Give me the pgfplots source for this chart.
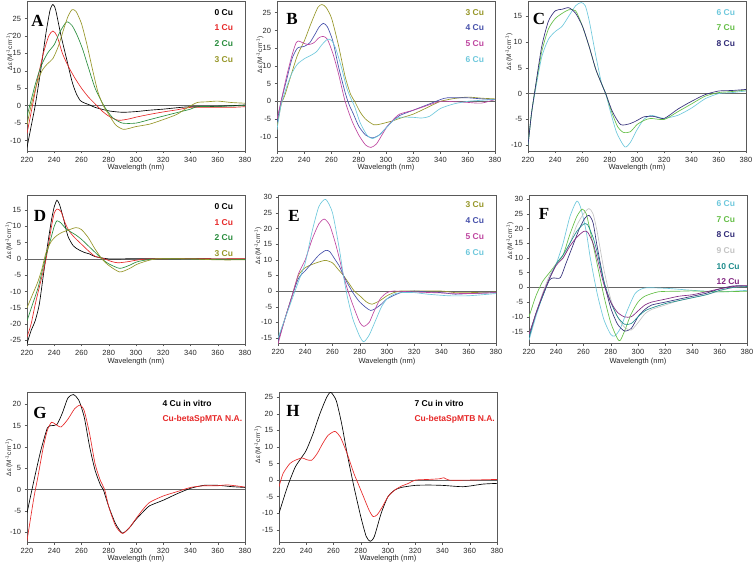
\documentclass[border=0pt]{standalone}
\usepackage{fontspec}
\setmainfont{Liberation Sans}
\newfontfamily\timesfont{Liberation Serif}
\usepackage{pgfplots}
\pgfplotsset{compat=1.18}
\definecolor{cred}{RGB}{230,40,40}
\definecolor{cgreen}{RGB}{40,140,60}
\definecolor{colive}{RGB}{150,150,40}
\definecolor{cblue}{RGB}{70,80,170}
\definecolor{cmag}{RGB}{190,70,160}
\definecolor{ccyan}{RGB}{110,200,220}
\definecolor{clgreen}{RGB}{100,190,70}
\definecolor{cnavy}{RGB}{50,45,120}
\definecolor{clgray}{RGB}{195,195,195}
\definecolor{cteal}{RGB}{30,140,140}
\definecolor{cpurp}{RGB}{130,40,130}
\pgfplotsset{
  pan/.style={scale only axis, width=218pt, height=150pt, anchor=north west,
    xmin=220, xmax=380, xtick={220,240,...,380},
    axis line style={black!65, line width=0.5pt},
    tick style={black!65, line width=0.4pt},
    tick align=outside, major tick length=2.5pt,
    xtick pos=bottom, ytick pos=left,
    tick label style={font=\fontsize{7.5}{9}\selectfont, black!85},
    /pgf/number format/assume math mode=true,
    every axis plot/.append style={line width=0.65pt, no marks, smooth, tension=0.4},
  },
  zero/.style={black!60, line width=0.6pt, sharp plot},
}
\newcommand{\zl}{\addplot[zero] coordinates {(220,0)(380,0)};}
\newcommand{\yl}[2]{\node[rotate=90, font=\fontsize{6.5}{8}\selectfont, black!85] at (#1) {#2};}
\newcommand{\ylab}{Δε (M\textsuperscript{-1}cm\textsuperscript{-1})}
\begin{document}
\begin{tikzpicture}[x=1pt,y=1pt]
\path[use as bounding box] (0,0) rectangle (753,-564);
% ---------------- A
\begin{axis}[pan, at={(27pt,-1pt)}, ymin=-13, ymax=30, ytick={-10,-5,...,25}]
\zl
\addplot[black] coordinates {(220,-12)(223,-6)(226,0)(230,10)(234,21)(237,27.5)(239,29)(241,27.5)(245,20)(249,13.5)(253,7)(256,3.6)(259,1.5)(262,0.8)(266,0.2)(270,-0.5)(280,-1.5)(290,-1.9)(300,-1.7)(310,-1.3)(320,-1)(330,-0.6)(340,-0.3)(360,-0.2)(380,0.2)};
\addplot[cred] coordinates {(220,-8)(224,0)(228,8)(232,15)(236,20)(239,21.4)(242,20)(246,15)(250,11.5)(255,8)(260,5)(265,2.5)(270,0.5)(275,-1.5)(280,-3)(287,-4.2)(295,-3.8)(300,-3.3)(310,-2.5)(320,-1.8)(330,-1.2)(340,-0.5)(350,-0.5)(360,-0.5)(370,-0.5)(380,-0.3)};
\addplot[cgreen] coordinates {(220,-3)(222,0)(226,6)(230,11)(235,15)(240,17.5)(244,21)(249,24)(253,23)(257,20)(261,16)(265,11)(270,5)(275,1)(278,-1)(283,-3.5)(290,-5)(300,-5)(310,-4)(320,-3)(330,-2)(340,-1)(345,-0.3)(360,-0.2)(380,0)};
\addplot[colive] coordinates {(220,-5.5)(223,0)(227,6)(231,10)(235,12)(239,13.5)(243,17)(247,22)(250,25.5)(253,27.5)(256,27)(260,23.5)(264,17.5)(268,10.5)(272,4)(276,0)(280,-2.5)(285,-5.5)(291,-6.8)(300,-6)(310,-5.3)(320,-4)(330,-2.5)(338,-0.5)(345,0.9)(352,1.1)(360,1.3)(370,0.9)(380,0.7)};
\end{axis}
% ---------------- B
\begin{axis}[pan, at={(277pt,-1pt)}, ymin=-14, ymax=28.3, ytick={-10,-5,...,25}]
\zl
\addplot[colive] coordinates {(220,-7)(223,-1)(226,2)(230,7)(235,13)(240,17)(245,22)(250,26.5)(253,27.3)(256,26.5)(260,23.5)(265,16)(270,7)(274,2)(277,0)(281,-3)(285,-5)(291,-6.6)(296,-6.4)(300,-6)(305,-5.5)(310,-4.8)(320,-3.6)(330,-1.8)(340,0)(350,0.8)(360,1.2)(370,0.9)(380,0.7)};
\addplot[cblue] coordinates {(220,-6)(223,0)(227,6)(231,12)(235,15)(240,15.5)(244,16.5)(248,19)(251,21)(254,22)(257,21)(261,17)(265,10)(270,2.5)(273,-1)(276,-3.5)(280,-7)(285,-9.5)(290,-10.3)(295,-9.5)(300,-7.5)(305,-5.5)(310,-4)(320,-2.5)(330,-1)(340,0.5)(345,1)(360,1)(370,0.7)(380,0.5)};
\addplot[cmag] coordinates {(220,-5)(223,0)(227,7)(231,13)(234,16.5)(236,17)(239,16.5)(243,16)(247,16.5)(251,18)(254,18.3)(257,17.5)(261,13.5)(265,8)(270,0)(275,-5.5)(280,-9.5)(285,-12.3)(289,-13)(293,-12)(297,-9.5)(301,-7)(305,-5.3)(310,-3.6)(320,-2.5)(330,-1.2)(340,0)(350,-0.1)(360,-0.3)(370,-0.5)(380,0.5)};
\addplot[ccyan] coordinates {(220,-8)(223,-1)(227,4)(231,8)(235,10.5)(240,12)(245,13)(249,14)(253,16)(257,17.5)(260,17.2)(263,15)(267,10)(271,4)(274,1)(277,-1.5)(281,-6)(286,-9.5)(290,-10.5)(295,-9.5)(300,-7.5)(305,-5.5)(310,-4.5)(320,-4.5)(326,-4.7)(332,-4.2)(340,-2)(350,-0.7)(360,0)(370,0.3)(380,0.5)};
\end{axis}
% ---------------- C
\begin{axis}[pan, at={(528pt,-1pt)}, ymin=-11.1, ymax=17.9, ytick={-10,-5,...,15}]
\zl
\addplot[ccyan] coordinates {(220,-10)(222.5,-4)(225,0)(230,7)(235,10.5)(240,12)(245,13)(250,15)(255,17)(259,17.6)(262,17)(265,14)(270,7)(274,2)(277,0)(280,-3)(285,-7.5)(291,-10.3)(295,-9.5)(300,-7)(305,-5)(310,-4.2)(315,-4.5)(320,-4.8)(330,-4.2)(340,-2.8)(350,-1)(360,0)(370,0.2)(380,0.5)};
\addplot[clgreen] coordinates {(220,-10)(222.5,-4)(225,0.5)(230,8)(235,12.5)(240,14.5)(245,15.5)(250,16.2)(255,16)(260,13)(265,9)(270,4.5)(277,0)(282,-4)(286,-6.5)(290,-7.5)(295,-7.4)(300,-6)(305,-5.2)(310,-4.8)(320,-5)(330,-3.5)(340,-2)(350,-0.5)(360,0.2)(370,0.4)(380,0.7)};
\addplot[cnavy] coordinates {(220,-10)(222.5,-4)(225,0.5)(230,9)(235,14)(240,16)(245,16.3)(250,16.6)(255,15.5)(260,13)(265,9)(270,4.5)(277,0)(282,-3.5)(288,-6)(295,-5.8)(300,-5.2)(305,-4.5)(312,-4.4)(320,-4.8)(330,-3)(340,-1.5)(350,-0.2)(360,0.5)(370,0.6)(380,0.8)};
\end{axis}
% ---------------- D
\begin{axis}[pan, at={(27pt,-195pt)}, height=149pt, ymin=-26.1, ymax=19.6, ytick={-25,-20,...,15}]
\zl
\addplot[black] coordinates {(220,-26)(223,-22)(226,-19)(229,-14)(232,-5)(235,4)(238,12)(240,16)(242,18)(244,16.5)(247,12)(250,7)(254,4)(258,2.8)(262,2)(266,1.5)(270,0.7)(280,0)(290,0)(300,0.1)(320,0)(340,0.1)(360,0)(380,0)};
\addplot[cred] coordinates {(220,-24)(223,-20)(226,-14)(230,-7)(234,0)(238,10)(240,14)(242,15.3)(245,14.5)(248,11)(251,8.5)(255,6.5)(260,4.5)(265,2.5)(270,0.8)(277,0)(282,-0.8)(287,-1.2)(295,-0.8)(300,-0.4)(310,0)(340,0.1)(360,0)(380,0.1)};
\addplot[cgreen] coordinates {(220,-19)(224,-14)(228,-9)(231,-4)(234,1)(238,7)(240,10)(242,11.7)(245,11)(248,9.5)(252,8.3)(256,7.3)(260,6)(265,4)(270,2)(275,0)(280,-1.5)(288,-2.9)(295,-2)(300,-1)(305,-0.5)(315,0)(340,0)(360,-0.2)(380,-0.2)};
\addplot[colive] coordinates {(220,-15)(224,-11)(228,-7)(231,-3)(234,2)(238,5.5)(242,7.2)(246,8.2)(250,8.8)(256,9.6)(260,9)(265,6.5)(270,3)(275,0)(280,-2)(288,-4)(295,-3)(300,-1.8)(305,-1)(315,0)(340,0)(360,-0.3)(380,-0.3)};
\end{axis}
% ---------------- E
\begin{axis}[pan, at={(278pt,-195pt)}, height=148pt, ymin=-16.6, ymax=30.7, ytick={-15,-10,...,30}]
\zl
\addplot[colive] coordinates {(220,-16)(225,-9)(230,-2)(235,5)(240,7.5)(245,8.5)(250,9.3)(255,9.8)(260,9)(264,7)(268,5)(272,2.5)(276,0)(280,-1.5)(285,-3.5)(289,-4.2)(295,-3)(300,-1.5)(305,-0.5)(310,0)(320,0)(340,0)(350,-0.5)(360,-0.5)(380,-0.3)};
\addplot[cblue] coordinates {(220,-16)(225,-9)(230,-2)(235,4)(240,6.5)(245,9)(250,11.5)(255,13)(258,12.6)(262,10)(265,8)(268,5)(271,2.5)(275,-0.5)(280,-3.5)(288,-6.2)(295,-4.5)(300,-2.5)(310,-0.5)(320,0)(330,-0.3)(340,-0.5)(350,-1)(360,-0.8)(380,-0.5)};
\addplot[cmag] coordinates {(220,-17)(225,-9)(230,-2)(235,5.5)(240,10)(245,16.5)(250,21.5)(254,23)(258,21)(262,15.5)(265,10.5)(268,5)(271,0.5)(275,-4.5)(280,-10)(283,-11.3)(287,-10)(290,-7)(295,-2.5)(300,-0.5)(305,0)(320,-0.3)(340,-0.6)(360,-0.8)(380,-0.5)};
\addplot[ccyan] coordinates {(220,-15)(225,-9)(230,-3)(235,3)(240,9)(245,19)(250,27)(255,29.3)(260,25)(265,13.5)(268,5)(271,-2)(275,-9)(280,-14.5)(283,-16.2)(287,-14)(292,-9)(296,-5)(300,-2.5)(305,-1)(310,-0.5)(320,-0.5)(330,-1)(345,-1.5)(360,-1.5)(380,-0.8)};
\end{axis}
% ---------------- F
\begin{axis}[pan, at={(529pt,-195pt)}, height=148pt, ymin=-18.9, ymax=31.4, ytick={-15,-10,...,30}]
\zl
\addplot[ccyan] coordinates {(220,-18)(225,-10)(230,-3)(235,3)(240,8)(245,15)(250,24)(255,29.3)(258,27)(262,19)(265,10)(270,-2)(275,-11)(280,-16)(283,-16.5)(287,-14)(292,-8)(298,-2)(305,-0.2)(320,-0.3)(340,-1)(360,-1.5)(380,-1)};
\addplot[clgreen] coordinates {(220,-10)(225,-3)(230,2)(235,5)(240,8)(245,11)(250,18)(255,24)(259,26.6)(262,25)(265,19)(270,8)(275,-3)(280,-12)(285,-17.5)(287,-18)(290,-15)(295,-9)(300,-5)(305,-3)(315,-1.5)(330,-1.3)(340,-1.2)(360,-1.5)(380,-1.3)};
\addplot[cnavy] coordinates {(220,-17)(225,-9)(230,-3)(235,2.5)(238,3.2)(243,3.3)(247,8)(252,14)(257,20)(261,23.5)(264,24.5)(267,22)(270,14)(275,2)(280,-7)(285,-12.5)(290,-14.8)(295,-14)(300,-10)(305,-7.5)(310,-6)(320,-5)(330,-4)(340,-3)(350,-2)(360,-0.5)(370,0.5)(380,0.5)};
\addplot[clgray] coordinates {(220,-16)(225,-9)(230,-2)(235,4)(240,8)(245,10)(250,15)(255,21)(260,25)(264,26.8)(267,25)(270,19)(275,6)(280,-4)(285,-10)(290,-13.5)(295,-14.5)(300,-12)(305,-9)(310,-7.5)(320,-6)(330,-4.5)(340,-3.5)(350,-2.5)(360,-1.2)(370,0)(380,0.5)};
\addplot[cteal] coordinates {(220,-17)(225,-9)(230,-3)(235,3)(240,8)(245,11)(250,15)(255,19)(260,21.5)(263,21.3)(267,17)(270,12)(275,2)(280,-5)(285,-10)(290,-12.5)(295,-12.3)(300,-10)(305,-8)(310,-7)(320,-5.5)(330,-4.5)(340,-3.5)(350,-2.5)(360,-1)(370,0)(380,0.3)};
\addplot[cpurp] coordinates {(220,-16)(225,-9)(230,-2.5)(235,3)(240,7.5)(245,10)(250,14)(255,17)(260,19)(263,18.8)(267,15)(270,10)(275,1)(280,-5)(285,-8.5)(290,-10)(295,-10)(300,-8)(305,-6)(310,-5)(320,-4)(330,-3)(340,-2.5)(350,-1.5)(360,-0.5)(370,0.3)(380,0.6)};
\end{axis}
% ---------------- G
\begin{axis}[pan, at={(27pt,-392pt)}, ymin=-12.3, ymax=22.9, ytick={-10,-5,...,20}]
\zl
\addplot[black] coordinates {(220,-5.5)(225,2)(230,9)(235,14.5)(238,15)(242,15.3)(246,18)(250,21.5)(254,22.3)(258,21)(262,17)(266,10)(270,4.5)(274,1)(276,0)(280,-4)(285,-8)(290,-10.2)(295,-9)(300,-7)(305,-5.3)(310,-3.8)(320,-2.5)(330,-1)(340,0.3)(350,1)(360,1)(370,0.7)(380,0.5)};
\addplot[cred] coordinates {(220,-12)(225,-2)(228,3)(232,10)(235,14)(238,15.8)(241,15.3)(245,14.7)(250,16.5)(255,19)(259,19.8)(262,18.5)(266,13)(270,6)(274,2)(277,0)(280,-4)(285,-8.5)(290,-10.3)(295,-9)(300,-6.8)(305,-4.7)(310,-3)(320,-1.5)(330,-0.5)(340,0.5)(350,0.9)(360,0.9)(367,1.1)(380,0.6)};
\end{axis}
% ---------------- H
\begin{axis}[pan, at={(279pt,-392pt)}, ymin=-18.7, ymax=26.6, ytick={-15,-10,...,25}]
\zl
\addplot[black] coordinates {(220,-10)(225,-3.5)(228,0)(232,4)(236,6.5)(240,9)(245,14)(250,20)(255,25)(258,26.5)(262,24)(266,17)(270,8)(275,-2)(280,-11)(284,-17)(287,-18.5)(290,-17)(295,-10)(300,-5)(305,-3)(310,-2.2)(320,-1.6)(330,-1.5)(340,-1.6)(350,-1.9)(355,-2)(360,-1.8)(370,-1.2)(380,-1)};
\addplot[cred] coordinates {(220,-2)(223,2)(228,5)(232,6)(237,6.7)(240,6.2)(244,6)(248,8)(252,11)(256,13.5)(261,14.7)(265,13)(270,8)(275,2)(278,-1)(282,-5)(286,-9)(289,-11)(292,-10.5)(296,-8)(300,-5)(305,-3)(310,-1.8)(315,-1)(320,0)(330,0.2)(338,0.4)(341,0.7)(345,0)(360,0)(380,0.2)};
\end{axis}
% ---------------- letters
\begin{scope}[font=\timesfont\bfseries\fontsize{17}{17}\selectfont]
\node at (37.5,-20.5) {A};
\node at (292,-19) {B};
\node at (539,-19) {C};
\node at (40,-216) {D};
\node at (294,-216) {E};
\node at (544,-214) {F};
\node at (40,-413) {G};
\node at (293,-411) {H};
\end{scope}
% ---------------- legends
\begin{scope}[font=\bfseries\fontsize{8.5}{9}\selectfont]
\node[anchor=west, black] at (211,-13) {0 Cu};
\node[anchor=west, cred] at (211,-28) {1 Cu};
\node[anchor=west, cgreen] at (211,-44) {2 Cu};
\node[anchor=west, colive] at (211,-60) {3 Cu};
\node[anchor=west, colive] at (462,-13) {3 Cu};
\node[anchor=west, cblue] at (462,-28) {4 Cu};
\node[anchor=west, cmag] at (462,-44) {5 Cu};
\node[anchor=west, ccyan] at (462,-60) {6 Cu};
\node[anchor=west, ccyan] at (713,-13) {6 Cu};
\node[anchor=west, clgreen] at (713,-28) {7 Cu};
\node[anchor=west, cnavy] at (713,-44) {8 Cu};
\node[anchor=west, black] at (211,-207) {0 Cu};
\node[anchor=west, cred] at (211,-223) {1 Cu};
\node[anchor=west, cgreen] at (211,-238) {2 Cu};
\node[anchor=west, colive] at (211,-254) {3 Cu};
\node[anchor=west, colive] at (462,-205) {3 Cu};
\node[anchor=west, cblue] at (462,-221) {4 Cu};
\node[anchor=west, cmag] at (462,-237) {5 Cu};
\node[anchor=west, ccyan] at (462,-253) {6 Cu};
\node[anchor=west, ccyan] at (713,-204) {6 Cu};
\node[anchor=west, clgreen] at (713,-220) {7 Cu};
\node[anchor=west, cnavy] at (713,-235) {8 Cu};
\node[anchor=west, clgray] at (713,-251) {9 Cu};
\node[anchor=west, cteal] at (713,-267) {10 Cu};
\node[anchor=west, cpurp] at (713,-282) {12 Cu};
\node[anchor=west, black] at (159,-403) {4 Cu in vitro};
\node[anchor=west, cred] at (159,-419) {Cu-betaSpMTA N.A.};
\node[anchor=west, black] at (411,-403) {7 Cu in vitro};
\node[anchor=west, cred] at (411,-419) {Cu-betaSpMTB N.A.};
\end{scope}
% ---------------- axis labels
\yl{10,-52}{\ylab}
\yl{260,-55}{\ylab}
\yl{509,-52}{\ylab}
\yl{9,-241}{\ylab}
\yl{258,-246}{\ylab}
\yl{510,-241}{\ylab}
\yl{9,-458}{\ylab}
\yl{258,-445}{\ylab}
\begin{scope}[font=\fontsize{7.5}{9}\selectfont, black!85]
\node at (136,-168) {Wavelength (nm)};
\node at (386,-168) {Wavelength (nm)};
\node at (637,-168) {Wavelength (nm)};
\node at (136,-362) {Wavelength (nm)};
\node at (387,-362) {Wavelength (nm)};
\node at (638,-362) {Wavelength (nm)};
\node at (136,-559) {Wavelength (nm)};
\node at (388,-559) {Wavelength (nm)};
\end{scope}
\end{tikzpicture}
\end{document}
